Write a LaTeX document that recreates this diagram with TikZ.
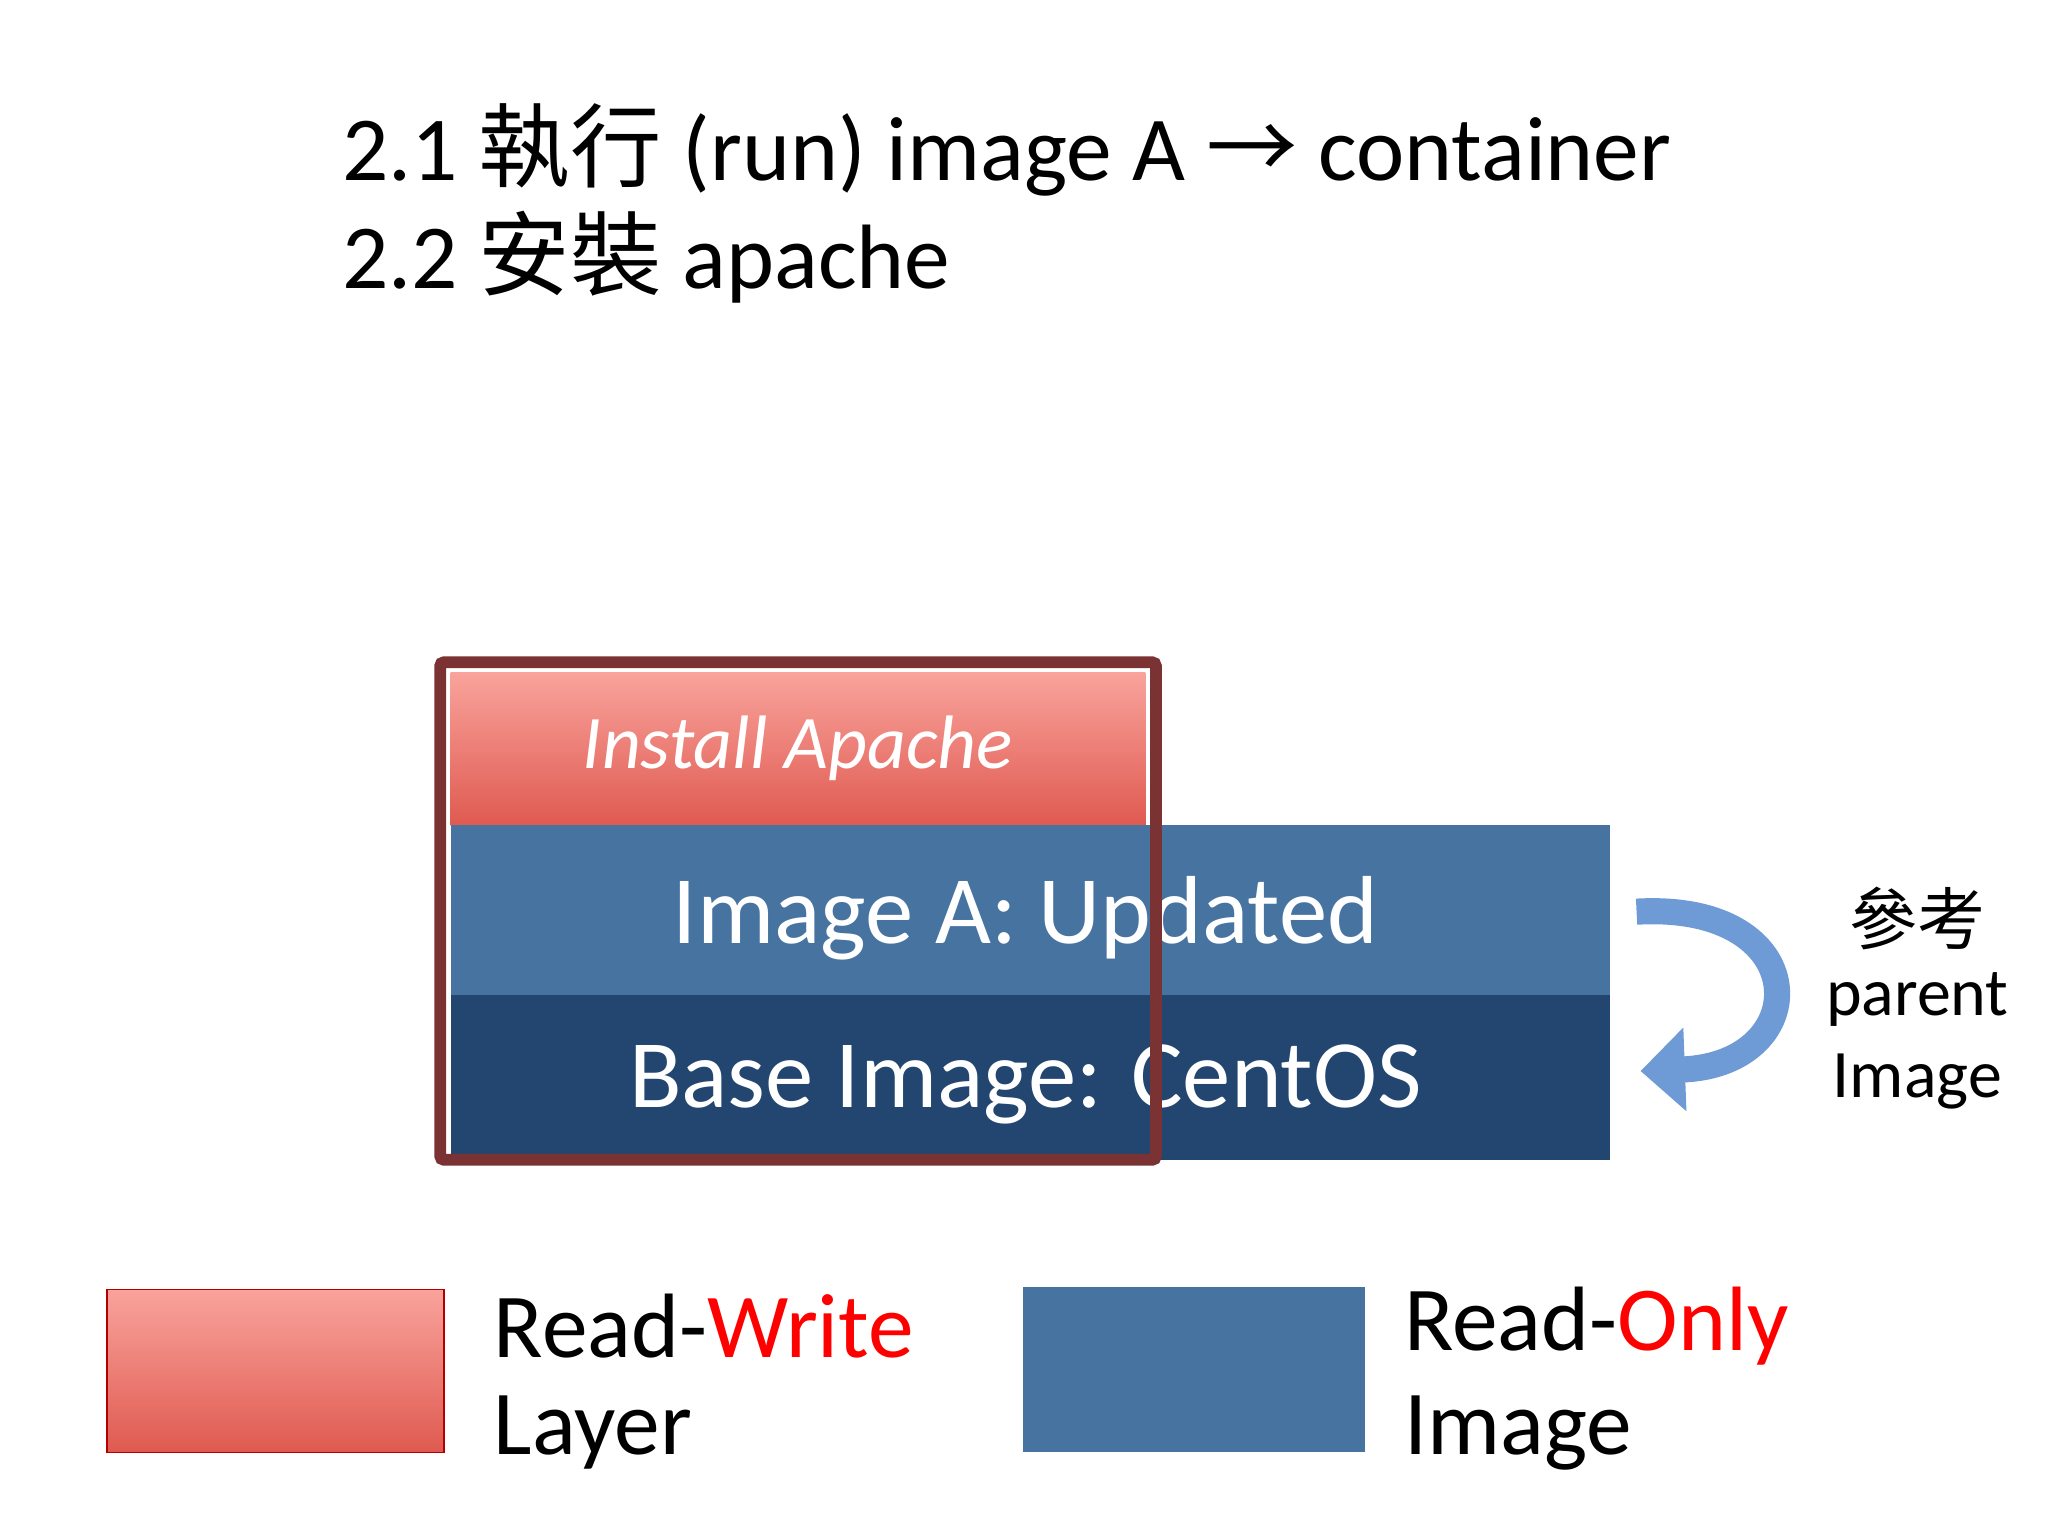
\documentclass[tikz,border=0pt]{standalone}
\usepackage{fontspec}
\setmainfont{Carlito}
\newfontfamily\cjk{Noto Sans CJK TC}
\usetikzlibrary{arrows.meta}
\definecolor{rwtop}{HTML}{F9A39C}
\definecolor{rwbot}{HTML}{DF5A50}
\definecolor{roA}{HTML}{4773A1}
\definecolor{roB}{HTML}{22466F}
\definecolor{outl}{HTML}{7A3232}
\definecolor{arr}{HTML}{6E9BD6}
\definecolor{hot}{HTML}{FF0000}
\tikzset{
 lay/.style={white,font=\fontsize{74}{80}\selectfont},
 big/.style={font=\fontsize{70}{84}\selectfont,anchor=west,inner sep=0},
 side/.style={font=\fontsize{52}{60}\selectfont,inner sep=0}
}
\begin{document}
\begin{tikzpicture}[x=1pt,y=-1pt]
\useasboundingbox[fill=white] (0,0) rectangle (1568,1176);
\node[big] (t1) at (262,115) {2.1 {\cjk 執行} (run) image A {\cjk →} container};
\node[big] (t2) at (262,197) {2.2 {\cjk 安裝} apache};
\fill[top color=rwtop,bottom color=rwbot] (345,515) rectangle (877,632);
\fill[roA] (345,632) rectangle (1233,762);
\fill[roB] (345,762) rectangle (1233,888);
\node[white,font=\fontsize{58}{64}\selectfont\itshape] (ia) at (611,573) {Install Apache};
\node[lay] (ua) at (785,703) {Image A: Updated};
\node[lay] (bc) at (785,830) {Base Image: CentOS};
\draw[outl,line width=9,rounded corners=3] (337,507) rectangle (885,888);
\coordinate (a1) at (1253,698);
\coordinate (a2) at (1256,820);
\draw[arr,line width=20,-{Triangle[width=62,length=34]}] (a1) .. controls (1390,690) and (1390,815) .. (a2);
\node[side] (p1) at (1468,703) {\cjk 參考};
\node[side] (p2) at (1468,765) {parent};
\node[side] (p3) at (1468,828) {Image};
\draw[red!70!black,line width=1,top color=rwtop,bottom color=rwbot] (82,987) rectangle (340,1112);
\node[big] (l1) at (378,1015) {Read-\textcolor{hot}{Write}};
\node[big] (l2) at (378,1097) {Layer};
\fill[roA] (783,985) rectangle (1045,1112);
\node[big] (l3) at (1075,1015) {Read-\textcolor{hot}{Only}};
\node[big] (l4) at (1075,1097) {Image};
\end{tikzpicture}
\end{document}
